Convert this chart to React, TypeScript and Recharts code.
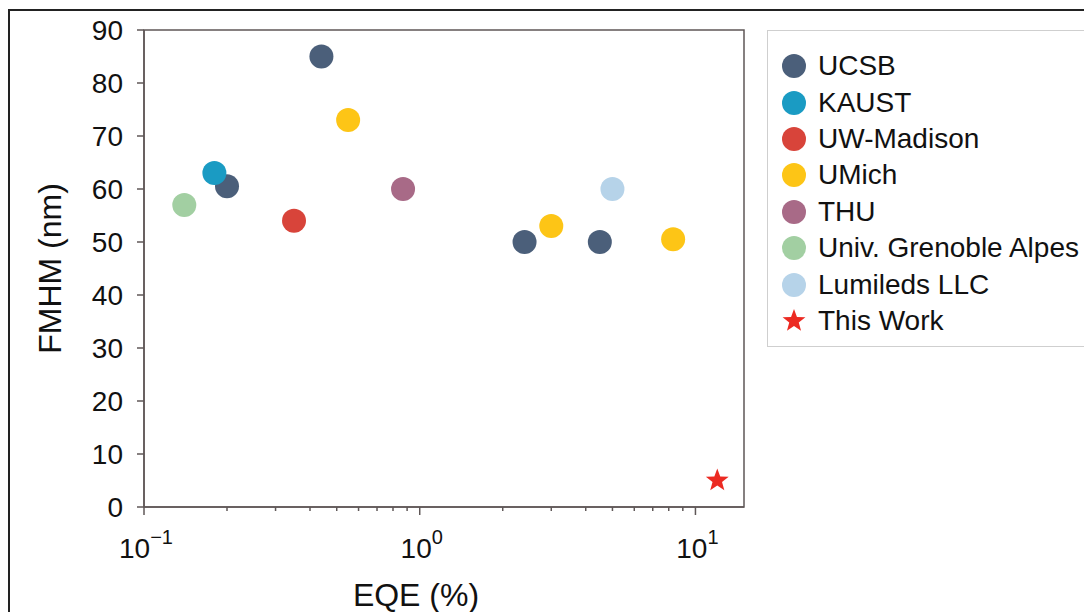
import React from 'react';
import {
  ScatterChart,
  Scatter,
  XAxis,
  YAxis,
  ReferenceArea,
} from 'recharts';

type Pt = { eqe: number; fwhm: number };

// EQE (%) vs FWHM (nm)
const ucsbData: Pt[] = [
  { eqe: 0.2, fwhm: 60.5 },
  { eqe: 0.44, fwhm: 85 },
  { eqe: 2.4, fwhm: 50 },
  { eqe: 4.5, fwhm: 50 },
];
const kaustData: Pt[] = [{ eqe: 0.18, fwhm: 63 }];
const uwMadisonData: Pt[] = [{ eqe: 0.35, fwhm: 54 }];
const umichData: Pt[] = [
  { eqe: 0.55, fwhm: 73 },
  { eqe: 3.0, fwhm: 53 },
  { eqe: 8.3, fwhm: 50.5 },
];
const thuData: Pt[] = [{ eqe: 0.87, fwhm: 60 }];
const grenobleData: Pt[] = [{ eqe: 0.14, fwhm: 57 }];
const lumiledsData: Pt[] = [{ eqe: 5.0, fwhm: 60 }];
const thisWorkData: Pt[] = [{ eqe: 12, fwhm: 5 }];

const yTicks = [0, 10, 20, 30, 40, 50, 60, 70, 80, 90];
const xMajorTicks = [0.1, 1, 10];
const xMinorTicks = [0.2, 0.3, 0.4, 0.5, 0.6, 0.7, 0.8, 0.9, 2, 3, 4, 5, 6, 7, 8, 9];
const xExponents: Record<string, string> = { '0.1': '\u22121', '1': '0', '10': '1' };

const series = [
  { name: 'UCSB', data: ucsbData, color: '#4b5f7a', star: false },
  { name: 'KAUST', data: kaustData, color: '#1a9bc3', star: false },
  { name: 'UW-Madison', data: uwMadisonData, color: '#d8443a', star: false },
  { name: 'UMich', data: umichData, color: '#fdc516', star: false },
  { name: 'THU', data: thuData, color: '#a86a87', star: false },
  { name: 'Univ. Grenoble Alpes', data: grenobleData, color: '#a2cfa2', star: false },
  { name: 'Lumileds LLC', data: lumiledsData, color: '#b6d3e9', star: false },
  { name: 'This Work', data: thisWorkData, color: '#ec2a22', star: true },
];

const FONT = '"Liberation Sans", Arial, Helvetica, sans-serif';
const AXIS = '#5f5757';

function starPath(cx: number, cy: number, R: number, r: number) {
  let d = '';
  for (let i = 0; i < 10; i++) {
    const rad = i % 2 === 0 ? R : r;
    const a = -Math.PI / 2 + (i * Math.PI) / 5;
    d += `${i === 0 ? 'M' : 'L'}${cx + rad * Math.cos(a)},${cy + rad * Math.sin(a)}`;
  }
  return d + 'Z';
}

const dot = (color: string) => (props: any) =>
  <circle cx={props.cx} cy={props.cy} r={12} fill={color} />;

const star = (color: string) => (props: any) =>
  <path d={starPath(props.cx, props.cy, 12, 5)} fill={color} />;

function XTick(props: any) {
  const { x, y, payload } = props;
  const exp = xExponents[String(payload.value)];
  if (exp === undefined) {
    return <line x1={x} x2={x} y1={y} y2={y + 4} stroke={AXIS} strokeWidth={1.5} />;
  }
  return (
    <g>
      <line x1={x} x2={x} y1={y} y2={y + 8} stroke={AXIS} strokeWidth={1.5} />
      <text x={x + 2} y={y + 51} textAnchor="middle" fontSize={28} fill="#111" fontFamily={FONT}>
        <tspan>10</tspan>
        <tspan dy={-14} fontSize={20}>{exp}</tspan>
      </text>
    </g>
  );
}

function Legend() {
  return (
    <div
      style={{
        position: 'absolute',
        left: 767,
        top: 30,
        width: 340,
        height: 317,
        border: '1px solid #cfcfcf',
        boxSizing: 'border-box',
        paddingTop: 17,
        fontFamily: FONT,
        fontSize: 28,
        color: '#111',
      }}
    >
      {series.map((s) => (
        <div key={s.name} style={{ height: 36.4, display: 'flex', alignItems: 'center' }}>
          <svg width={50} height={30} style={{ flex: 'none' }}>
            {s.star ? (
              <path d={starPath(26, 15, 12, 5)} fill={s.color} />
            ) : (
              <circle cx={26} cy={15} r={12} fill={s.color} />
            )}
          </svg>
          <span style={{ whiteSpace: 'nowrap' }}>{s.name}</span>
        </div>
      ))}
    </div>
  );
}

export default function App() {
  return (
    <div
      style={{
        position: 'absolute',
        left: 0,
        top: 0,
        width: 1084,
        height: 612,
        overflow: 'hidden',
        background: '#fff',
      }}
    >
      <div
        style={{
          position: 'absolute',
          left: 8,
          top: 9,
          width: 1200,
          height: 700,
          borderTop: '2px solid #222',
          borderLeft: '2px solid #222',
        }}
      />
      <ScatterChart
        width={1084}
        height={612}
        margin={{ top: 30, right: 340, bottom: 0, left: 0 }}
        style={{ position: 'absolute', left: 0, top: 0 }}
      >
        <XAxis
          type="number"
          dataKey="eqe"
          scale="log"
          domain={[0.1, 15]}
          allowDataOverflow
          ticks={[...xMajorTicks, ...xMinorTicks]}
          interval={0}
          tick={<XTick />}
          tickLine={false}
          tickSize={0}
          tickMargin={0}
          height={105}
          axisLine={{ stroke: AXIS, strokeWidth: 1.5 }}
          label={{
            content: (p: any) => {
              const vb = p.viewBox;
              return (
                <text
                  x={vb.x + vb.width / 2 - 28}
                  y={vb.y + 99}
                  textAnchor="middle"
                  fontSize={32}
                  fill="#111"
                  fontFamily={FONT}
                >
                  EQE (%)
                </text>
              );
            },
          }}
        />
        <YAxis
          type="number"
          dataKey="fwhm"
          domain={[0, 90]}
          ticks={yTicks}
          interval={0}
          width={144}
          tickSize={7}
          tickMargin={14}
          tick={{ fontSize: 28, fill: '#111', fontFamily: FONT }}
          tickLine={{ stroke: AXIS, strokeWidth: 1.5 }}
          axisLine={{ stroke: AXIS, strokeWidth: 1.5 }}
          label={{
            content: (p: any) => {
              const vb = p.viewBox;
              const cx = 50;
              const cy = vb.y + vb.height / 2;
              return (
                <text
                  x={cx}
                  y={cy}
                  transform={`rotate(-90, ${cx}, ${cy})`}
                  textAnchor="middle"
                  dominantBaseline="central"
                  fontSize={32}
                  fill="#111"
                  fontFamily={FONT}
                >
                  FMHM (nm)
                </text>
              );
            },
          }}
        />
        <ReferenceArea
          x1={0.1}
          x2={15}
          y1={0}
          y2={90}
          fill="none"
          stroke={AXIS}
          strokeWidth={1.5}
          ifOverflow="visible"
        />
        {series.map((s) => (
          <Scatter
            key={s.name}
            name={s.name}
            data={s.data}
            fill={s.color}
            shape={s.star ? star(s.color) : dot(s.color)}
            isAnimationActive={false}
          />
        ))}
      </ScatterChart>
      <Legend />
    </div>
  );
}
